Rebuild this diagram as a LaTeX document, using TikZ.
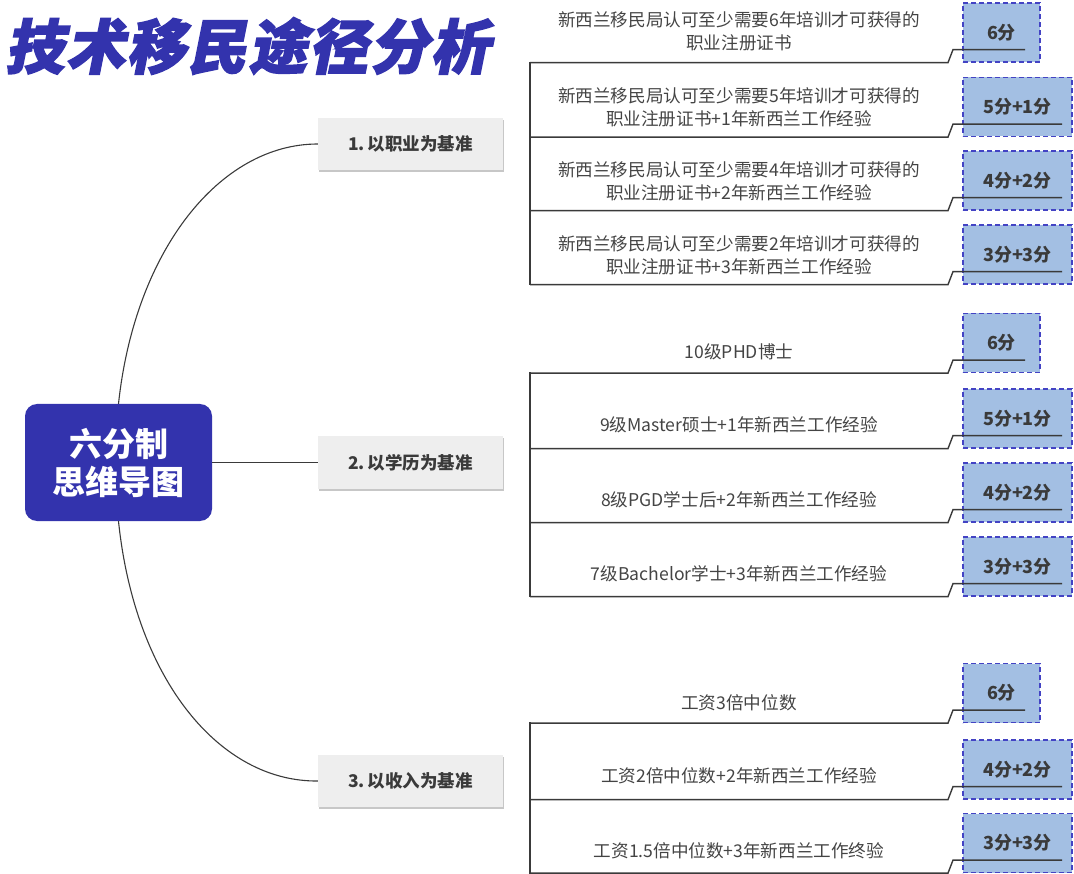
\documentclass[tikz,border=0pt]{standalone}
\usepackage{fontspec}
\setmainfont{Noto Sans CJK SC}
\newfontfamily\titlefont{Noto Sans CJK SC}[FakeSlant=0.2,FakeBold=2.5,LetterSpace=3]
\usetikzlibrary{shadows}
\definecolor{mainB}{HTML}{3333AD}
\definecolor{lineC}{HTML}{3A3A3A}
\definecolor{txtC}{HTML}{3A3A3A}
\definecolor{itemC}{HTML}{444444}
\definecolor{scoreF}{HTML}{A3BFE3}
\definecolor{scoreB}{HTML}{4343C4}
\definecolor{branchF}{HTML}{EEEEEE}
\begin{document}
\begin{tikzpicture}[x=1pt,y=-1pt,
  ln/.style={draw=lineC,line width=1.4pt,line cap=rect},
  curve/.style={draw=lineC,line width=1.1pt},
  itemtext/.style={font=\fontsize{17.6}{23}\selectfont,text=itemC,align=center,inner sep=0pt},
  scorebox/.style={draw=scoreB,fill=scoreF,dash pattern=on 5pt off 3pt,line width=1.2pt,
     minimum height=59pt,inner sep=0pt,font=\fontsize{18}{20}\selectfont\bfseries,text=txtC},
  shortbox/.style={scorebox,minimum width=77pt},
  longbox/.style={scorebox,minimum width=109pt},
  branch/.style={fill=branchF,minimum width=185pt,minimum height=52pt,inner sep=0pt,
     font=\fontsize{17.5}{20}\selectfont\bfseries,text=txtC,
     drop shadow={shadow xshift=1.2pt,shadow yshift=-2pt,fill=black!22,opacity=1}},
  centre/.style={fill=mainB,rounded corners=12pt,minimum width=187pt,minimum height=117pt,
     inner sep=0pt,align=center,text=white,font=\fontsize{33}{38}\selectfont\bfseries}
]
\useasboundingbox (0,0) rectangle (1074,874);

% title
\node[anchor=west,inner sep=0pt,text=mainB,font=\titlefont\bfseries\fontsize{59}{60}\selectfont] (title) at (5,46) {技术移民途径分析};

% central node and branches
\node[centre] (c) at (118.5,462.5) {六分制\\思维导图};
\node[branch] (br1) at (410.5,144) {1.\,以职业为基准};
\node[branch] (br2) at (410.5,462.5) {2.\,以学历为基准};
\node[branch] (br3) at (410.5,781) {3.\,以收入为基准};

\draw[curve] (c.north) .. controls (135,250) and (220,144) .. (br1.west);
\draw[curve] (c.east) -- (br2.west);
\draw[curve] (c.south) .. controls (135,680) and (220,782) .. (br3.west);

% score boxes
\node[shortbox] (a1) at (1001.5,32.5) {6分};
\node[longbox]  (a2) at (1017.5,107) {5分+1分};
\node[longbox]  (a3) at (1017.5,180.5) {4分+2分};
\node[longbox]  (a4) at (1017.5,254.5) {3分+3分};

\node[shortbox] (b1) at (1001.5,343) {6分};
\node[longbox]  (b2) at (1017.5,418.5) {5分+1分};
\node[longbox]  (b3) at (1017.5,492.5) {4分+2分};
\node[longbox]  (b4) at (1017.5,566.5) {3分+3分};

\node[shortbox] (d1) at (1001.5,693) {6分};
\node[longbox]  (d2) at (1017.5,769.5) {4分+2分};
\node[longbox]  (d3) at (1017.5,843) {3分+3分};

% item texts
\node[itemtext] (ta1) at (739,31.5) {新西兰移民局认可至少需要6年培训才可获得的\\职业注册证书};
\node[itemtext] (ta2) at (739,107) {新西兰移民局认可至少需要5年培训才可获得的\\职业注册证书+1年新西兰工作经验};
\node[itemtext] (ta3) at (739,181) {新西兰移民局认可至少需要4年培训才可获得的\\职业注册证书+2年新西兰工作经验};
\node[itemtext] (ta4) at (739,255.5) {新西兰移民局认可至少需要2年培训才可获得的\\职业注册证书+3年新西兰工作经验};

\node[itemtext] (tb1) at (739,352) {10级PHD博士};
\node[itemtext] (tb2) at (739,425) {9级Master硕士+1年新西兰工作经验};
\node[itemtext] (tb3) at (739,500) {8级PGD学士后+2年新西兰工作经验};
\node[itemtext] (tb4) at (739,574) {7级Bachelor学士+3年新西兰工作经验};

\node[itemtext] (td1) at (739,703) {工资3倍中位数};
\node[itemtext] (td2) at (739,776) {工资2倍中位数+2年新西兰工作经验};
\node[itemtext] (td3) at (739,851) {工资1.5倍中位数+3年新西兰工作终验};

% connectors
\coordinate (vx) at (530,0);
\coordinate (kx) at (948,0);
\foreach \g/\n in {a/4,b/4,d/3}{
  \draw[ln] (vx |- \g1.south) -- (vx |- \g\n.south);
}
\foreach \bx/\len in {a1/72,a2/109,a3/109,a4/109,b1/72,b2/109,b3/109,b4/109,d1/72,d2/109,d3/109}{
  \draw[ln,line cap=butt] (vx |- \bx.south) -- (kx |- \bx.south) -- ++(5,-13) -- ++(\len,0);
}
\end{tikzpicture}
\end{document}
